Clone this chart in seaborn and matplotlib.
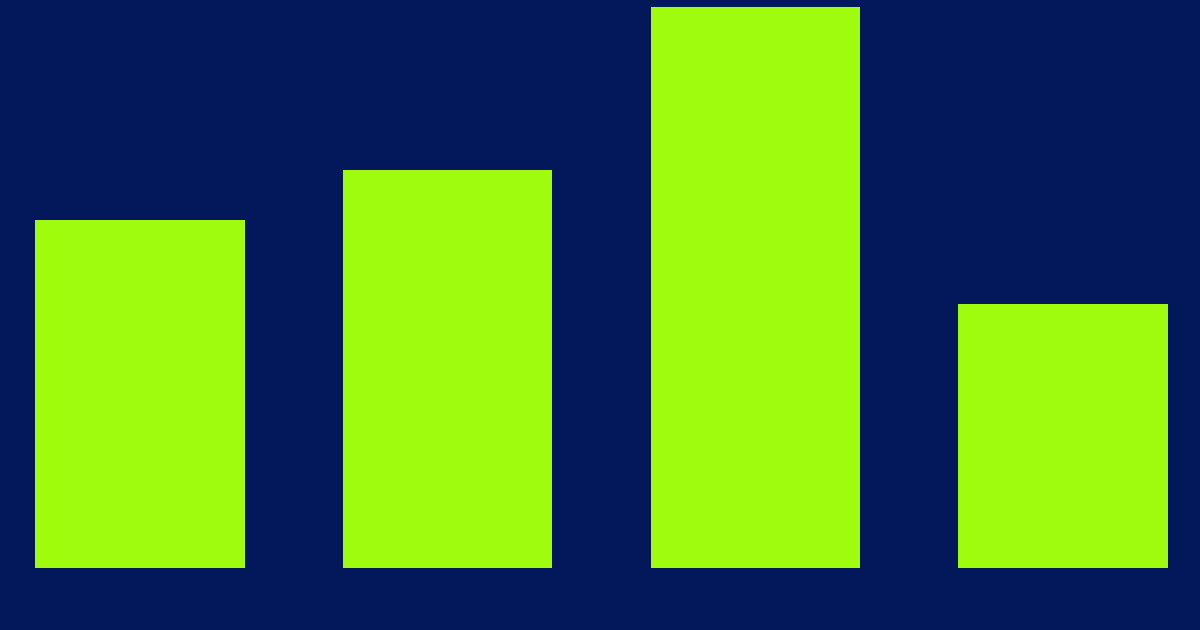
import seaborn as sns
import matplotlib.pyplot as plt

# bar chart, no labels at all in the reference
categories = ["A", "B", "C", "D"]
values = [62, 71, 100, 47]

bg_color = "#03185a"
bar_color = "#9efc0c"

fig = plt.figure(figsize=(12, 6.3), dpi=100, facecolor=bg_color)
ax = fig.add_axes([0, 0, 1, 1])
ax.set_facecolor(bg_color)

sns.barplot(x=categories, y=values, color=bar_color, saturation=1,
            width=0.68, ax=ax)

ax.set_xlim(-0.455, 3.445)
ax.set_ylim(-11.05, 101.25)
ax.axis("off")

fig.savefig("out.png", dpi=100, facecolor=bg_color)
